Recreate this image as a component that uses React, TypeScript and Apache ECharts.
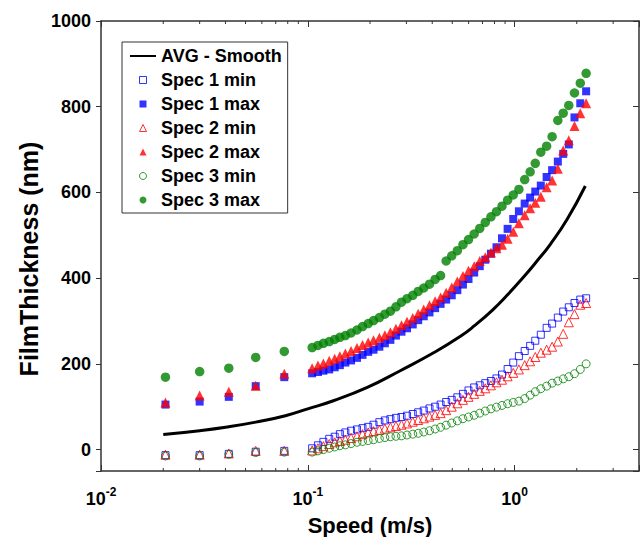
import React, { useEffect, useRef } from "react";
import * as echarts from "echarts";

const FONT = "'Liberation Sans', Arial, sans-serif";

// Speeds (m/s) at which the specimens were measured
const speeds = [
  0.0205, 0.03, 0.0415, 0.056, 0.077,
  0.105, 0.112, 0.119, 0.127, 0.135, 0.143, 0.152, 0.162, 0.173, 0.184,
  0.196, 0.208, 0.222, 0.236, 0.251, 0.267, 0.284, 0.302, 0.322, 0.342,
  0.364, 0.388, 0.413, 0.439, 0.467, 0.497, 0.529, 0.563, 0.599, 0.638,
  0.679, 0.722, 0.769, 0.818, 0.87, 0.926, 0.986, 1.05, 1.12, 1.19,
  1.26, 1.34, 1.43, 1.52, 1.62, 1.72, 1.83, 1.95, 2.08, 2.22,
];

const spec1Min = [
  -13, -13, -10, -5, -3,
  3, 10, 18, 25, 30, 36, 40, 44, 47, 50,
  53, 58, 64, 68, 71, 74, 76, 79, 83, 87,
  91, 96, 100, 105, 111, 116, 122, 130, 138, 145,
  150, 155, 160, 166, 175, 188, 203, 218, 230, 242,
  254, 268, 284, 294, 308, 322, 332, 342, 350, 353,
];
const spec1Max = [
  105, 112, 123, 148, 169,
  178, 181, 184, 187, 192, 197, 203, 208, 214, 221,
  228, 233, 240, 248, 256, 266, 275, 283, 292, 302,
  311, 320, 330, 340, 350, 360, 372, 385, 398, 413,
  428, 443, 457, 472, 493, 515, 538, 556, 574, 588,
  602, 616, 636, 652, 672, 690, 712, 775, 808, 836,
];
const spec2Min = [
  -12, -12, -9, -3, -3,
  -2, 3, 8, 13, 17, 20, 23, 27, 31, 36,
  40, 43, 46, 49, 52, 55, 58, 61, 65, 69,
  73, 77, 81, 85, 92, 100, 108, 116, 123, 130,
  137, 143, 150, 157, 163, 171, 179, 187, 197, 206,
  216, 226, 233, 240, 252, 270, 297, 316, 338, 342,
];
const spec2Max = [
  110, 126, 135, 149, 177,
  190, 196, 201, 207, 212, 218, 224, 230, 237, 244,
  250, 255, 261, 267, 274, 282, 290, 298, 307, 317,
  327, 337, 346, 355, 366, 378, 392, 405, 417, 428,
  440, 449, 460, 470, 478, 492, 508, 528, 547, 563,
  576, 590, 612, 628, 655, 698, 722, 755, 785, 808,
];
const spec3Min = [
  -15, -15, -11, -7, -6,
  -6, -3, 0, 3, 6, 9, 11, 14, 17, 19,
  21, 23, 26, 28, 30, 31, 32, 34, 36, 38,
  41, 44, 48, 52, 57, 62, 67, 72, 76, 80,
  85, 90, 95, 99, 103, 107, 110, 113, 119, 127,
  135, 142, 148, 155, 160, 165, 170, 177, 187, 200,
];
const spec3Max = [
  169, 182, 190, 215, 229,
  238, 243, 248, 252, 257, 262, 266, 272, 279, 287,
  294, 301, 308, 316, 323, 333, 344, 352, 360, 369,
  377, 386, 397, 406, 440, 452, 464, 478, 490, 503,
  516, 530, 543, 555, 568, 582, 594, 607, 630, 648,
  668, 694, 708, 730, 768, 785, 803, 832, 855, 878,
];

// Smoothed average curve
const avgSpeeds = [0.02, 0.03, 0.04, 0.056, 0.078, 0.1, 0.133, 0.194, 0.28, 0.41, 0.55, 0.64, 0.78, 0.92, 1.09, 1.29, 1.49, 1.8, 2.2];
const avgValues = [35, 44, 52, 64, 79, 95, 114, 145, 184, 227, 265, 289, 325, 360, 399, 441, 479, 538, 615];

// Log-axis minor tick positions
const minorTickSpeeds = [0.02, 0.03, 0.04, 0.05, 0.06, 0.07, 0.08, 0.09, 0.2, 0.3, 0.4, 0.5, 0.6, 0.7, 0.8, 0.9, 2, 3];

const legendNames = ["AVG - Smooth", "Spec 1 min", "Spec 1 max", "Spec 2 min", "Spec 2 max", "Spec 3 min", "Spec 3 max"];

const pairs = (vals: number[]) => speeds.map((s, i) => [s, vals[i]]);

const AXIS_COLOR = "#333";
const SQUARE_ICON = "path://M0,0L10,0L10,10L0,10Z";
const TRIANGLE_ICON = "path://M5,0L10,10L0,10Z";

const logLabel = (v: number) => {
  const e = Math.log10(v);
  const r = Math.round(e);
  if (Math.abs(e - r) > 1e-6) return "";
  return `{b|10}{s|${r}}`;
};

export default function App() {
  const ref = useRef<HTMLDivElement>(null);
  useEffect(() => {
    if (!ref.current) return;
    const chart = echarts.init(ref.current, undefined, { renderer: "svg" });
    const transparent = "rgba(0,0,0,0)";
    const option: any = {
      animation: false,
      backgroundColor: "#fff",
      grid: { left: 101, right: 2, top: 21, bottom: 66, outerBoundsMode: "none", containLabel: false },
      legend: {
        orient: "vertical",
        left: 122,
        top: 42,
        padding: [4, 6, 3, 7],
        itemWidth: 26,
        itemHeight: 7,
        itemGap: 4,
        symbolKeepAspect: true,
        borderColor: AXIS_COLOR,
        borderWidth: 1,
        backgroundColor: "#fff",
        selectedMode: false,
        textStyle: { fontFamily: FONT, fontWeight: "bold", fontSize: 18, color: "#000", lineHeight: 20 },
        data: [
          { name: legendNames[0], itemStyle: { opacity: 0 } },
          { name: legendNames[1], icon: SQUARE_ICON, itemStyle: { borderWidth: 1 } },
          { name: legendNames[2], icon: SQUARE_ICON },
          { name: legendNames[3], icon: TRIANGLE_ICON, itemStyle: { borderWidth: 1 } },
          { name: legendNames[4], icon: TRIANGLE_ICON },
          { name: legendNames[5], itemStyle: { borderWidth: 1 } },
          legendNames[6],
        ],
      },
      xAxis: [
        {
          type: "log",
          logBase: 10,
          min: 0.01,
          max: 4,
          position: "bottom",
          axisLine: { onZero: false, lineStyle: { color: AXIS_COLOR, width: 1.5 } },
          axisTick: { inside: true, length: 6, lineStyle: { color: AXIS_COLOR, width: 1 } },
          splitLine: { show: false },
          axisLabel: {
            margin: 15,
            formatter: logLabel,
            rich: {
              b: { fontFamily: FONT, fontWeight: "bold", fontSize: 18, color: "#000", lineHeight: 26 },
              s: { fontFamily: FONT, fontWeight: "bold", fontSize: 12, color: "#000", lineHeight: 12, verticalAlign: "top" },
            },
          },
          name: "Speed (m/s)",
          nameLocation: "middle",
          nameGap: 43,
          nameTextStyle: { fontFamily: FONT, fontWeight: "bold", fontSize: 22, color: "#000", lineHeight: 22 },
        },
        {
          type: "log",
          logBase: 10,
          min: 0.01,
          max: 4,
          position: "top",
          axisLine: { onZero: false, lineStyle: { color: AXIS_COLOR, width: 1.5 } },
          axisTick: { inside: true, length: 6, lineStyle: { color: AXIS_COLOR, width: 1 } },
          splitLine: { show: false },
          axisLabel: { show: false },
        },
      ],
      yAxis: [
        {
          type: "value",
          min: -50,
          max: 1000,
          splitNumber: 5,
          minInterval: 200,
          maxInterval: 200,
          position: "left",
          axisLine: { show: true, onZero: false, lineStyle: { color: AXIS_COLOR, width: 1.5 } },
          axisTick: { show: true, inside: false, length: 5, lineStyle: { color: AXIS_COLOR, width: 1 } },
          splitLine: { show: false },
          axisLabel: {
            margin: 10,
            fontFamily: FONT,
            fontWeight: "bold",
            fontSize: 18,
            color: "#000",
            formatter: (v: number) => (v < 0 ? "" : String(v)),
          },
        },
        {
          type: "value",
          min: -50,
          max: 1000,
          splitNumber: 5,
          minInterval: 200,
          maxInterval: 200,
          position: "right",
          axisLine: { show: true, onZero: false, lineStyle: { color: AXIS_COLOR, width: 1.5 } },
          axisTick: { show: true, inside: true, length: 6, lineStyle: { color: AXIS_COLOR, width: 1 } },
          splitLine: { show: false },
          axisLabel: { show: false },
        },
      ],
      graphic: [
        {
          type: "text",
          x: 29,
          y: 259,
          rotation: Math.PI / 2,
          style: {
            text: "FilmThickness (nm)",
            font: `bold 25px ${FONT}`,
            fill: "#000",
            align: "center",
            verticalAlign: "middle",
          },
        },
      ],
      series: [
        {
          name: "minor ticks",
          type: "custom",
          silent: true,
          clip: false,
          z: 1,
          data: minorTickSpeeds.map((s) => [s, 0]),
          renderItem: (params: any, api: any) => {
            const x = api.coord([api.value(0), 0])[0];
            const cs = params.coordSys;
            const style = { stroke: AXIS_COLOR, lineWidth: 1 };
            return {
              type: "group",
              children: [
                { type: "line", shape: { x1: x, y1: cs.y + cs.height, x2: x, y2: cs.y + cs.height - 3 }, style },
                { type: "line", shape: { x1: x, y1: cs.y, x2: x, y2: cs.y + 3 }, style },
              ],
            };
          },
        },
        {
          name: legendNames[0],
          type: "line",
          data: avgSpeeds.map((s, i) => [s, avgValues[i]]),
          symbol: "none",
          smooth: true,
          lineStyle: { color: "#000", width: 3 },
          itemStyle: { color: "#000" },
          z: 2,
        },
        {
          name: legendNames[1],
          type: "scatter",
          data: pairs(spec1Min),
          symbol: "rect",
          symbolSize: 7,
          itemStyle: { color: transparent, borderColor: "#0000ff", borderWidth: 1 },
          z: 3,
        },
        {
          name: legendNames[2],
          type: "scatter",
          data: pairs(spec1Max),
          symbol: "rect",
          symbolSize: 8,
          itemStyle: { color: "#0000ff" },
          z: 3,
        },
        {
          name: legendNames[3],
          type: "scatter",
          data: pairs(spec2Min),
          symbol: "triangle",
          symbolSize: 9,
          itemStyle: { color: transparent, borderColor: "#ff0000", borderWidth: 1 },
          z: 3,
        },
        {
          name: legendNames[4],
          type: "scatter",
          data: pairs(spec2Max),
          symbol: "triangle",
          symbolSize: 10,
          itemStyle: { color: "#ff0000" },
          z: 3,
        },
        {
          name: legendNames[5],
          type: "scatter",
          data: pairs(spec3Min),
          symbol: "circle",
          symbolSize: 8,
          itemStyle: { color: transparent, borderColor: "#008000", borderWidth: 1 },
          z: 3,
        },
        {
          name: legendNames[6],
          type: "scatter",
          data: pairs(spec3Max),
          symbol: "circle",
          symbolSize: 9.5,
          itemStyle: { color: "#008000" },
          z: 3,
        },
      ],
    };
    chart.setOption(option);
    return () => chart.dispose();
  }, []);
  return (
    <div
      ref={ref}
      style={{ position: "absolute", left: 0, top: 0, width: 641, height: 537, background: "#fff" }}
    />
  );
}
